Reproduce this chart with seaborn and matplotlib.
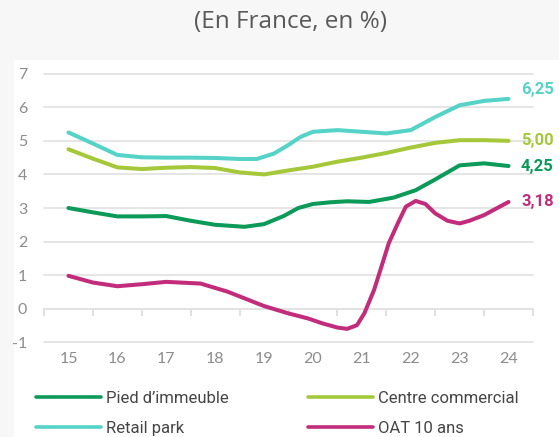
import numpy as np
import pandas as pd
import matplotlib
matplotlib.use("Agg")
import matplotlib.pyplot as plt
from matplotlib.patches import Rectangle
import seaborn as sns

# ---------------- data ----------------
pied_years = [15, 15.5, 16, 16.5, 17, 17.5, 18, 18.6, 19, 19.4, 19.7,
              20, 20.35, 20.7, 21.15, 21.65, 22.1, 22.5, 23, 23.5, 24]
pied = [3.00, 2.87, 2.75, 2.75, 2.76, 2.62, 2.50, 2.44, 2.52, 2.76, 3.00,
        3.12, 3.17, 3.20, 3.18, 3.31, 3.53, 3.85, 4.27, 4.33, 4.25]

centre_years = [15, 15.5, 16, 16.5, 17, 17.5, 18, 18.5, 19, 19.5,
                20, 20.5, 21, 21.5, 22, 22.5, 23, 23.5, 24]
centre = [4.75, 4.47, 4.21, 4.16, 4.20, 4.22, 4.19, 4.06, 4.00, 4.12,
          4.23, 4.38, 4.50, 4.64, 4.80, 4.94, 5.02, 5.02, 5.00]

retail_years = [15, 15.5, 16, 16.5, 17, 17.5, 18, 18.5, 18.85, 19.2, 19.5,
                19.75, 20, 20.5, 21, 21.5, 22, 22.5, 23, 23.5, 24]
retail = [5.25, 4.92, 4.58, 4.51, 4.50, 4.50, 4.49, 4.46, 4.46, 4.62, 4.88,
          5.12, 5.27, 5.32, 5.27, 5.22, 5.32, 5.71, 6.06, 6.19, 6.25]

oat_years = [15, 15.5, 16, 16.5, 17, 17.7, 18.25, 18.65, 19, 19.5, 19.9,
             20.2, 20.5, 20.7, 20.9, 21.05, 21.25, 21.4, 21.55, 21.75, 21.9,
             22.1, 22.3, 22.5, 22.75, 23.0, 23.2, 23.5, 24]
oat = [0.98, 0.78, 0.67, 0.73, 0.80, 0.75, 0.51, 0.28, 0.08, -0.14, -0.29,
       -0.44, -0.56, -0.60, -0.49, -0.14, 0.56, 1.25, 1.95, 2.59, 3.04,
       3.21, 3.12, 2.84, 2.62, 2.54, 2.62, 2.79, 3.18]

series_names = ["Pied d\u2019immeuble", "Centre commercial", "Retail park", "OAT 10 ans"]
colors = ["#0c9a58", "#a5c83a", "#55d3c6", "#c22d7b"]
year_labels = ["15", "16", "17", "18", "19", "20", "21", "22", "23", "24"]
y_ticks = [-1, 0, 1, 2, 3, 4, 5, 6, 7]
title = "(En France, en %)"

frames = [
    pd.DataFrame({"annee": pied_years, "taux": pied, "serie": series_names[0]}),
    pd.DataFrame({"annee": centre_years, "taux": centre, "serie": series_names[1]}),
    pd.DataFrame({"annee": retail_years, "taux": retail, "serie": series_names[2]}),
    pd.DataFrame({"annee": oat_years, "taux": oat, "serie": series_names[3]}),
]
df = pd.concat(frames, ignore_index=True)
palette = dict(zip(series_names, colors))

# ---------------- figure ----------------
sns.set_theme(style="white")
plt.rcParams["font.family"] = ["Lato", "DejaVu Sans"]

fig = plt.figure(figsize=(5.59, 4.37), dpi=100, facecolor="#f7f7f7")
fig.patches.append(Rectangle((14 / 559, 0), 1, 1 - 60 / 437, transform=fig.transFigure,
                             facecolor="white", edgecolor="none", zorder=-10))

ax = fig.add_axes([44 / 559, 1 - 342.3 / 437, 489 / 559, 268.6 / 437])
ax.set_zorder(2)
ax.set_facecolor("none")

sns.lineplot(data=df, x="annee", y="taux", hue="serie", hue_order=series_names,
             palette=palette, sort=False, linewidth=2.9, ax=ax, legend=True,
             solid_capstyle="round", solid_joinstyle="round", zorder=3)

ax.set_xlim(14.5, 24.5)
ax.set_ylim(-1, 7)
ax.set_xlabel("")
ax.set_ylabel("")
for s in ax.spines.values():
    s.set_visible(False)

ax.set_yticks(y_ticks)
ax.set_yticklabels([str(v) for v in y_ticks])
ax.set_xticks([float(v) for v in year_labels])
ax.set_xticklabels(year_labels)
ax.tick_params(axis="both", length=0, labelsize=11.5, labelcolor="#8c8c8c")
ax.tick_params(axis="y", pad=12)
ax.tick_params(axis="x", pad=7)
ax.yaxis.grid(True, color="#e3e3e3", linewidth=1.3)
ax.xaxis.grid(False)
for gl in ax.get_ygridlines():
    gl.set_clip_on(False)

# category axis line at y = 0 with boundary ticks
sec = ax.secondary_xaxis(1 / 8)
sec.set_xticks(np.arange(14.5, 25.0, 1.0))
sec.set_xticklabels([])
sec.tick_params(direction="out", length=5, width=1.2, color="#dcdcdc")
for k, s in sec.spines.items():
    s.set_visible(k == "bottom")
sec.spines["bottom"].set_color("#dcdcdc")
sec.spines["bottom"].set_linewidth(1.3)

# end-value labels
last_vals = [pied[-1], centre[-1], retail[-1], oat[-1]]
last_x = [pied_years[-1], centre_years[-1], retail_years[-1], oat_years[-1]]
offsets = [0, 0, 7, 0]
for name, xv, v, c, off in zip(series_names, last_x, last_vals, colors, offsets):
    ax.annotate(f"{v:.2f}".replace(".", ","), xy=(xv, v), xytext=(9, off),
                textcoords="offset points", ha="left", va="center",
                color=c, fontsize=12, fontweight="bold", family=["Roboto", "DejaVu Sans"],
                annotation_clip=False)

# title
fig.text(290 / 559, 1 - 22 / 437, title, ha="center", va="center",
         fontsize=17.5, color="#595959", family=["Open Sans", "DejaVu Sans"])

# legend
handles, labels = ax.get_legend_handles_labels()
ax.get_legend().remove()
order = [0, 2, 1, 3]
leg = fig.legend([handles[i] for i in order], [labels[i] for i in order],
                 ncol=2, loc="lower left", bbox_to_anchor=(21 / 559, -14 / 437),
                 frameon=False, handlelength=3.9, handletextpad=0.3,
                 columnspacing=4.78, labelspacing=0.9,
                 prop={"family": "Roboto", "size": 12})
for t in leg.get_texts():
    t.set_color("#454545")
for h in leg.legend_handles:
    h.set_linewidth(2.6)

fig.savefig("out.png", dpi=100, facecolor=fig.get_facecolor())
